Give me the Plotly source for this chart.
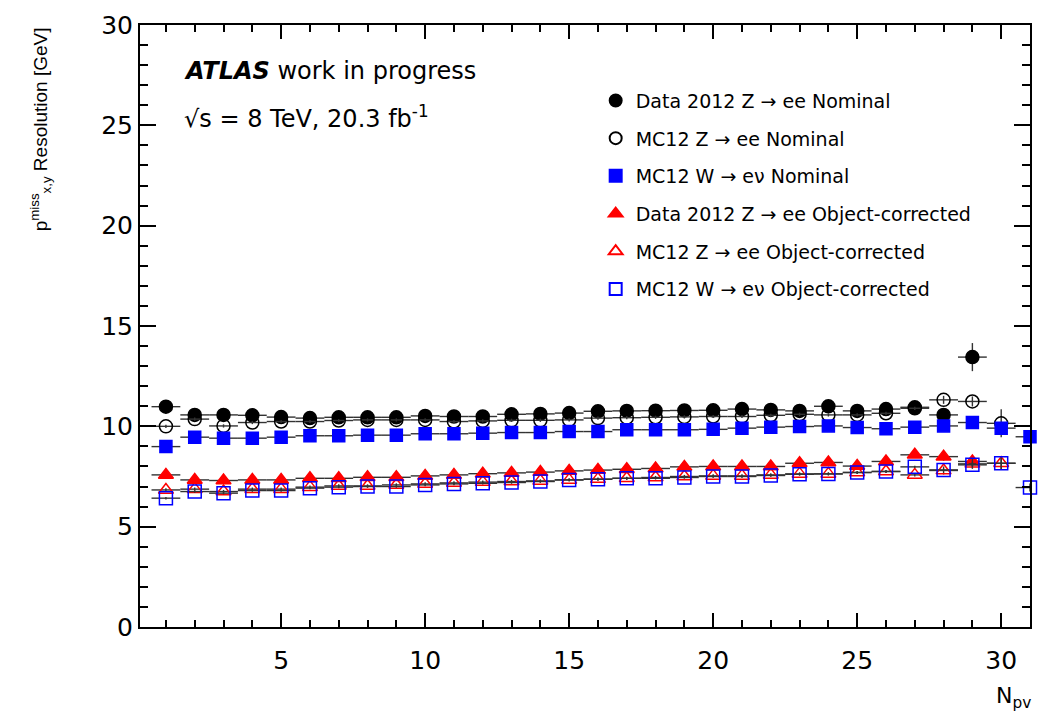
import plotly.graph_objects as go

# Number of primary vertices (bin centres)
npv = list(range(1, 32))

# E_T^miss x,y resolution [GeV] per N_pv bin
data_z_nominal = [10.98, 10.57, 10.57, 10.55, 10.46, 10.41, 10.45, 10.45, 10.45, 10.52,
                  10.49, 10.49, 10.60, 10.62, 10.66, 10.75, 10.77, 10.78, 10.79, 10.80,
                  10.86, 10.82, 10.77, 11.00, 10.77, 10.86, 10.95, 10.57, 13.45]
mc_z_nominal = [10.00, 10.36, 10.02, 10.19, 10.24, 10.24, 10.29, 10.32, 10.32, 10.32,
                10.24, 10.27, 10.30, 10.30, 10.32, 10.41, 10.43, 10.45, 10.47, 10.49,
                10.49, 10.55, 10.60, 10.57, 10.57, 10.65, 10.90, 11.32, 11.24, 10.15]
mc_w_nominal = [8.99, 9.46, 9.41, 9.41, 9.46, 9.53, 9.53, 9.56, 9.56, 9.63,
                9.63, 9.66, 9.69, 9.69, 9.74, 9.74, 9.83, 9.83, 9.83, 9.85,
                9.91, 9.96, 9.99, 10.02, 9.94, 9.88, 9.96, 10.02, 10.19, 9.91, 9.48]
data_z_corr = [7.58, 7.33, 7.30, 7.33, 7.33, 7.41, 7.41, 7.46, 7.46, 7.53,
               7.58, 7.64, 7.68, 7.72, 7.78, 7.82, 7.86, 7.90, 7.98, 8.00,
               8.00, 8.00, 8.16, 8.20, 8.02, 8.25, 8.58, 8.49, 8.25]
mc_z_corr = [6.83, 6.87, 6.75, 6.87, 6.87, 6.97, 7.03, 7.03, 7.08, 7.13,
             7.18, 7.22, 7.25, 7.28, 7.33, 7.37, 7.41, 7.45, 7.50, 7.53,
             7.53, 7.58, 7.63, 7.63, 7.70, 7.75, 7.58, 7.80, 8.13, 8.16]
mc_w_corr = [6.42, 6.75, 6.67, 6.80, 6.80, 6.92, 6.97, 7.00, 7.00, 7.08,
             7.13, 7.16, 7.20, 7.25, 7.33, 7.36, 7.41, 7.41, 7.45, 7.50,
             7.50, 7.55, 7.61, 7.63, 7.70, 7.75, 7.98, 7.83, 8.08, 8.16, 6.95]

# Statistical uncertainties (only visible in the last bins)
err_data_z_nominal = [0.08] * 27 + [0.15, 0.70]
err_mc_z_nominal = [0.08] * 27 + [0.2, 0.25, 0.70]
err_mc_w_nominal = [0.06] * 28 + [0.15, 0.30, 0.2]
err_data_z_corr = [0.08] * 27 + [0.2, 0.25]
err_mc_z_corr = [0.08] * 27 + [0.2, 0.25, 0.30]
err_mc_w_corr = [0.06] * 28 + [0.15, 0.30, 0.2]

series = [
    ("Data 2012 Z \u2192 ee Nominal", data_z_nominal, err_data_z_nominal,
     "circle", "black", 13),
    ("MC12 Z \u2192 ee Nominal", mc_z_nominal, err_mc_z_nominal,
     "circle-open", "black", 13),
    ("MC12 W \u2192 e\u03bd Nominal", mc_w_nominal, err_mc_w_nominal,
     "square", "#0000ff", 12),
    ("Data 2012 Z \u2192 ee Object-corrected", data_z_corr, err_data_z_corr,
     "triangle-up", "#ff0000", 13),
    ("MC12 Z \u2192 ee Object-corrected", mc_z_corr, err_mc_z_corr,
     "triangle-up-open", "#ff0000", 13),
    ("MC12 W \u2192 e\u03bd Object-corrected", mc_w_corr, err_mc_w_corr,
     "square-open", "#0000ff", 13),
]

fig = go.Figure()
for i, (name, vals, errs, sym, col, size) in enumerate(series):
    n = len(vals)
    fig.add_trace(go.Scatter(
        x=npv[:n], y=vals, name=name, mode="markers",
        legendgroup=f"g{i}",
        marker=dict(symbol=sym, color=col, size=size,
                    line=dict(color=col, width=1.5)),
        error_x=dict(type="constant", value=0.5, color="#333333",
                     thickness=1.4, width=0),
        error_y=dict(type="data", array=errs, color="#333333",
                     thickness=1.4, width=0),
        cliponaxis=False,
    ))

font_family = "DejaVu Sans, Verdana, sans-serif"
narrow_family = "Liberation Sans, Arial, Helvetica, sans-serif"

fig.update_layout(
    width=1040, height=717,
    margin=dict(l=140, r=8, t=25, b=90),
    paper_bgcolor="white", plot_bgcolor="white",
    font=dict(family=font_family, color="black"),
    showlegend=True,
    legend=dict(x=0.512, y=0.906, xanchor="left", yanchor="top",
                bgcolor="rgba(0,0,0,0)", font=dict(size=19, color="black"),
                tracegroupgap=10, itemsizing="constant"),
    xaxis=dict(range=[0.1, 31.0], tickvals=[5, 10, 15, 20, 25, 30],
               ticks="inside", ticklen=14, tickwidth=2, tickcolor="black",
               showline=True, linecolor="black", linewidth=2, mirror="allticks",
               showgrid=False, zeroline=False,
               tickfont=dict(size=25), ticklabelstandoff=10,
               minor=dict(tickvals=list(range(1, 32)), ticks="inside", ticklen=7,
                          tickwidth=1.5, tickcolor="black", showgrid=False)),
    yaxis=dict(range=[0, 30], tickvals=[0, 5, 10, 15, 20, 25, 30],
               ticks="inside", ticklen=16, tickwidth=2, tickcolor="black",
               showline=True, linecolor="black", linewidth=2, mirror="allticks",
               showgrid=False, zeroline=False,
               tickfont=dict(size=25),
               minor=dict(dtick=1, ticks="inside", ticklen=8,
                          tickwidth=1.5, tickcolor="black", showgrid=False)),
)

fig.add_annotation(
    xref="paper", yref="paper", x=0.047, y=0.924, xanchor="left", yanchor="middle",
    text="<b><i>ATLAS</i></b> work in progress", showarrow=False,
    font=dict(size=24, family=font_family))
fig.add_annotation(
    xref="paper", yref="paper", x=0.047, y=0.848, xanchor="left", yanchor="middle",
    text="\u221as = 8 TeV, 20.3 fb<sup>-1</sup>", showarrow=False,
    font=dict(size=24, family=font_family))
fig.add_annotation(
    xref="paper", yref="paper", x=-0.112, y=1.0, xanchor="center", yanchor="top",
    text="p<sup>miss</sup><sub>x,y</sub> Resolution [GeV]", textangle=-90,
    showarrow=False, font=dict(size=19, family=narrow_family))
fig.add_annotation(
    xref="paper", yref="paper", x=1.003, y=-0.09, xanchor="right", yanchor="top",
    text="N<sub>pv</sub>", showarrow=False, font=dict(size=22, family=font_family))

fig.write_html("out.html")
